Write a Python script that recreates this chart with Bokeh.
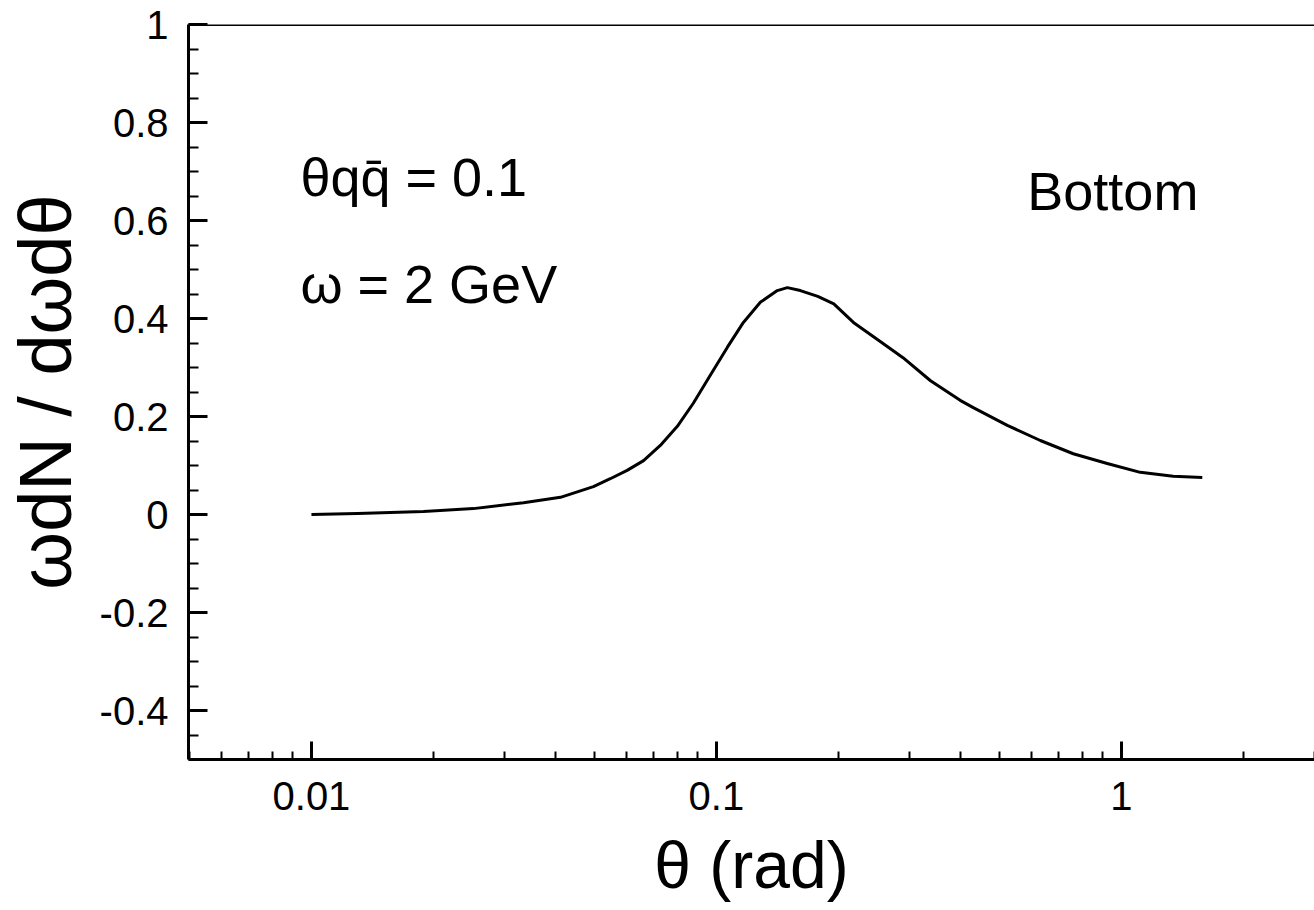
from bokeh.plotting import figure
from bokeh.models import FixedTicker, CustomJSTickFormatter, Span, ColumnDataSource
from bokeh.core.properties import value
from bokeh.embed import file_html
from bokeh.resources import INLINE

# --- data ---
theta = [0.01, 0.013, 0.0189, 0.0251, 0.0334, 0.0412, 0.0497, 0.0547, 0.0602, 0.0661,
         0.0727, 0.0801, 0.0877, 0.0966, 0.1064, 0.1166, 0.1284, 0.1414, 0.1497, 0.1612,
         0.178, 0.195, 0.218, 0.258, 0.289, 0.338, 0.40, 0.431, 0.523, 0.631, 0.761,
         0.923, 1.114, 1.343, 1.585]
dN = [0.0, 0.002, 0.006, 0.012, 0.024, 0.035, 0.057, 0.073, 0.090, 0.110,
      0.141, 0.180, 0.227, 0.284, 0.341, 0.392, 0.433, 0.457, 0.463, 0.457,
      0.445, 0.430, 0.392, 0.349, 0.320, 0.273, 0.233, 0.218, 0.182, 0.151, 0.124,
      0.104, 0.086, 0.078, 0.0755]

x_major = [0.01, 0.1, 1.0]
y_major = [-0.4, -0.2, 0.0, 0.2, 0.4, 0.6, 0.8, 1.0]

FONT = "Liberation Sans"

p = figure(width=1314, height=910, x_axis_type="log",
           x_range=(0.00497, 3.0), y_range=(-0.5, 1.0),
           output_backend="svg", toolbar_location=None,
           min_border_left=188, min_border_right=0,
           min_border_top=24, min_border_bottom=151)
p.background_fill_color = "white"
p.border_fill_color = "white"
p.outline_line_color = None
p.grid.visible = False

src = ColumnDataSource(dict(x=theta, y=dN))
p.line("x", "y", source=src, line_color="black", line_width=3, line_join="round")

# top frame line
p.add_layout(Span(location=1.0, dimension="width", line_color="black", line_width=3))

# x axis
xminor = [m * d for d in (0.001, 0.01, 0.1, 1.0) for m in range(2, 10)]
p.xaxis.ticker = FixedTicker(ticks=x_major, minor_ticks=xminor)
p.xaxis.formatter = CustomJSTickFormatter(code="return parseFloat(tick.toPrecision(6)).toString();")
p.xaxis.axis_label = "θ (rad)"

# y axis
yminor = [round(-0.5 + 0.05 * i, 2) for i in range(31)]
p.yaxis.ticker = FixedTicker(ticks=y_major, minor_ticks=yminor)
p.yaxis.formatter = CustomJSTickFormatter(
    code="if (Math.abs(tick) < 1e-9) return '0'; return parseFloat(tick.toFixed(2)).toString();")
p.yaxis.axis_label = "ωdN / dωdθ"

for ax in (p.xaxis[0], p.yaxis[0]):
    ax.axis_line_color = "black"
    ax.axis_line_width = 3
    ax.major_tick_line_color = "black"
    ax.major_tick_line_width = 3
    ax.minor_tick_line_color = "black"
    ax.minor_tick_line_width = 2
    ax.major_tick_out = 0
    ax.minor_tick_out = 0
    ax.major_label_text_font = FONT
    ax.major_label_text_font_size = "40px"
    ax.major_label_text_color = "black"
    ax.axis_label_text_font = FONT
    ax.axis_label_text_font_style = "normal"
    ax.axis_label_text_color = "black"

p.xaxis.major_tick_in = 18
p.xaxis.minor_tick_in = 8
p.xaxis.major_label_standoff = 22
p.xaxis.axis_label_text_font_size = "66px"
p.xaxis.axis_label_standoff = 15

p.yaxis.major_tick_in = 19
p.yaxis.minor_tick_in = 10
p.yaxis.major_label_standoff = 20
p.yaxis.axis_label_text_font_size = "74px"
p.yaxis.axis_label_standoff = 10

# annotations
ann_x = [0.00939, 0.00939, 0.586]
ann_y = [0.688, 0.471, 0.661]
ann_t = ["θqq̄ = 0.1", "ω = 2 GeV", "Bottom"]
p.text(x=ann_x, y=ann_y, text=ann_t, text_font=value(FONT), text_font_size="54px",
       text_color="black", text_baseline="alphabetic", text_align="left")

open("out.html", "w").write(file_html(p, INLINE))
